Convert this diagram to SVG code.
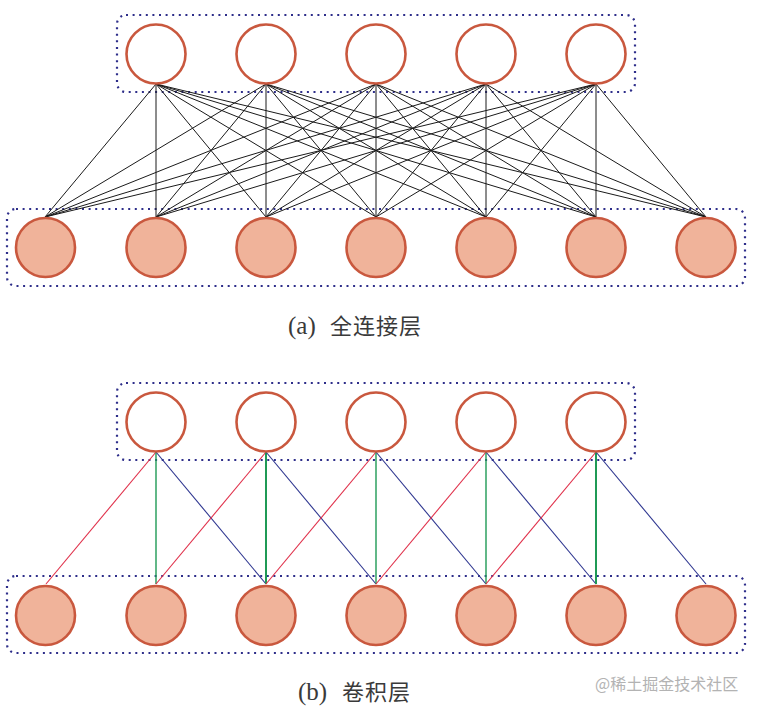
<svg xmlns="http://www.w3.org/2000/svg" width="757" height="712" viewBox="0 0 757 712">
<style>
.box{fill:none;stroke:#2e2e8a;stroke-width:2.2;stroke-dasharray:2 4.6}
.top{fill:#ffffff;stroke:#c9583e;stroke-width:2.6}
.bot{fill:#f0b39a;stroke:#c9583e;stroke-width:2.6}
.fc line{stroke:#1a1a1a;stroke-width:1}
.r{stroke:#e0304a;stroke-width:1.1}
.g{stroke:#1f9a55;stroke-width:1.4}
.b{stroke:#2e3690;stroke-width:1.1}
.cap{font-family:"Liberation Serif","Noto Sans CJK SC",serif;font-size:25px;fill:#3a3a3a}
.cj{font-family:"Noto Sans CJK SC",sans-serif;font-size:22px;letter-spacing:1px;fill:#3a3a3a}
.wm{font-family:"Noto Sans CJK SC","Noto Sans",sans-serif;font-size:16px;fill:#b3b3b3}
</style>
<rect width="757" height="712" fill="#ffffff"/>

<!-- (a) fully connected -->
<g id="a-boxes">
<rect class="box" x="117" y="15" width="518" height="77" rx="9"/>
<rect class="box" x="7" y="209" width="738" height="77" rx="9"/>
</g>
<g id="a-connectors" class="fc">
<line x1="156" y1="84" x2="45" y2="217"/><line x1="156" y1="84" x2="156" y2="217"/><line x1="156" y1="84" x2="266" y2="217"/><line x1="156" y1="84" x2="376" y2="217"/><line x1="156" y1="84" x2="486" y2="217"/><line x1="156" y1="84" x2="596" y2="217"/><line x1="156" y1="84" x2="706" y2="217"/>
<line x1="266" y1="84" x2="45" y2="217"/><line x1="266" y1="84" x2="156" y2="217"/><line x1="266" y1="84" x2="266" y2="217"/><line x1="266" y1="84" x2="376" y2="217"/><line x1="266" y1="84" x2="486" y2="217"/><line x1="266" y1="84" x2="596" y2="217"/><line x1="266" y1="84" x2="706" y2="217"/>
<line x1="376" y1="84" x2="45" y2="217"/><line x1="376" y1="84" x2="156" y2="217"/><line x1="376" y1="84" x2="266" y2="217"/><line x1="376" y1="84" x2="376" y2="217"/><line x1="376" y1="84" x2="486" y2="217"/><line x1="376" y1="84" x2="596" y2="217"/><line x1="376" y1="84" x2="706" y2="217"/>
<line x1="486" y1="84" x2="45" y2="217"/><line x1="486" y1="84" x2="156" y2="217"/><line x1="486" y1="84" x2="266" y2="217"/><line x1="486" y1="84" x2="376" y2="217"/><line x1="486" y1="84" x2="486" y2="217"/><line x1="486" y1="84" x2="596" y2="217"/><line x1="486" y1="84" x2="706" y2="217"/>
<line x1="596" y1="84" x2="45" y2="217"/><line x1="596" y1="84" x2="156" y2="217"/><line x1="596" y1="84" x2="266" y2="217"/><line x1="596" y1="84" x2="376" y2="217"/><line x1="596" y1="84" x2="486" y2="217"/><line x1="596" y1="84" x2="596" y2="217"/><line x1="596" y1="84" x2="706" y2="217"/>
</g>
<g id="a-top1"><circle class="top" cx="156" cy="54" r="29.5"/></g>
<g id="a-top2"><circle class="top" cx="266" cy="54" r="29.5"/></g>
<g id="a-top3"><circle class="top" cx="376" cy="54" r="29.5"/></g>
<g id="a-top4"><circle class="top" cx="486" cy="54" r="29.5"/></g>
<g id="a-top5"><circle class="top" cx="596" cy="54" r="29.5"/></g>
<g id="a-bot1"><circle class="bot" cx="45.5" cy="247.5" r="29.5"/></g>
<g id="a-bot2"><circle class="bot" cx="156" cy="247.5" r="29.5"/></g>
<g id="a-bot3"><circle class="bot" cx="266" cy="247.5" r="29.5"/></g>
<g id="a-bot4"><circle class="bot" cx="376" cy="247.5" r="29.5"/></g>
<g id="a-bot5"><circle class="bot" cx="486" cy="247.5" r="29.5"/></g>
<g id="a-bot6"><circle class="bot" cx="596" cy="247.5" r="29.5"/></g>
<g id="a-bot7"><circle class="bot" cx="706" cy="247.5" r="29.5"/></g>
<text class="cap" x="288" y="334">(a)<tspan class="cj" x="330">全连接层</tspan></text>

<!-- (b) convolution -->
<g id="b-boxes">
<rect class="box" x="117" y="383" width="518" height="77" rx="9"/>
<rect class="box" x="7" y="576" width="738" height="77" rx="9"/>
</g>
<g id="b-connectors">
<line class="r" x1="156" y1="452" x2="46" y2="584"/><line class="g" x1="156" y1="452" x2="156" y2="584"/><line class="b" x1="156" y1="452" x2="266" y2="584"/>
<line class="r" x1="266" y1="452" x2="156" y2="584"/><line class="g" x1="266" y1="452" x2="266" y2="584" style="stroke-width:2"/><line class="b" x1="266" y1="452" x2="376" y2="584"/>
<line class="r" x1="376" y1="452" x2="266" y2="584"/><line class="g" x1="376" y1="452" x2="376" y2="584"/><line class="b" x1="376" y1="452" x2="486" y2="584"/>
<line class="r" x1="486" y1="452" x2="376" y2="584"/><line class="g" x1="486" y1="452" x2="486" y2="584"/><line class="b" x1="486" y1="452" x2="596" y2="584"/>
<line class="r" x1="596" y1="452" x2="486" y2="584"/><line class="g" x1="596" y1="452" x2="596" y2="584" style="stroke-width:2"/><line class="b" x1="596" y1="452" x2="706" y2="584"/>
</g>
<g id="b-top1"><circle class="top" cx="156" cy="422" r="29.5"/></g>
<g id="b-top2"><circle class="top" cx="266" cy="422" r="29.5"/></g>
<g id="b-top3"><circle class="top" cx="376" cy="422" r="29.5"/></g>
<g id="b-top4"><circle class="top" cx="486" cy="422" r="29.5"/></g>
<g id="b-top5"><circle class="top" cx="596" cy="422" r="29.5"/></g>
<g id="b-bot1"><circle class="bot" cx="45.5" cy="615.5" r="29.5"/></g>
<g id="b-bot2"><circle class="bot" cx="156" cy="615.5" r="29.5"/></g>
<g id="b-bot3"><circle class="bot" cx="266" cy="615.5" r="29.5"/></g>
<g id="b-bot4"><circle class="bot" cx="376" cy="615.5" r="29.5"/></g>
<g id="b-bot5"><circle class="bot" cx="486" cy="615.5" r="29.5"/></g>
<g id="b-bot6"><circle class="bot" cx="596" cy="615.5" r="29.5"/></g>
<g id="b-bot7"><circle class="bot" cx="706" cy="615.5" r="29.5"/></g>
<text class="cap" x="298" y="700">(b)<tspan class="cj" x="342">卷积层</tspan></text>
<text class="wm" x="595" y="690">@稀土掘金技术社区</text>
</svg>
